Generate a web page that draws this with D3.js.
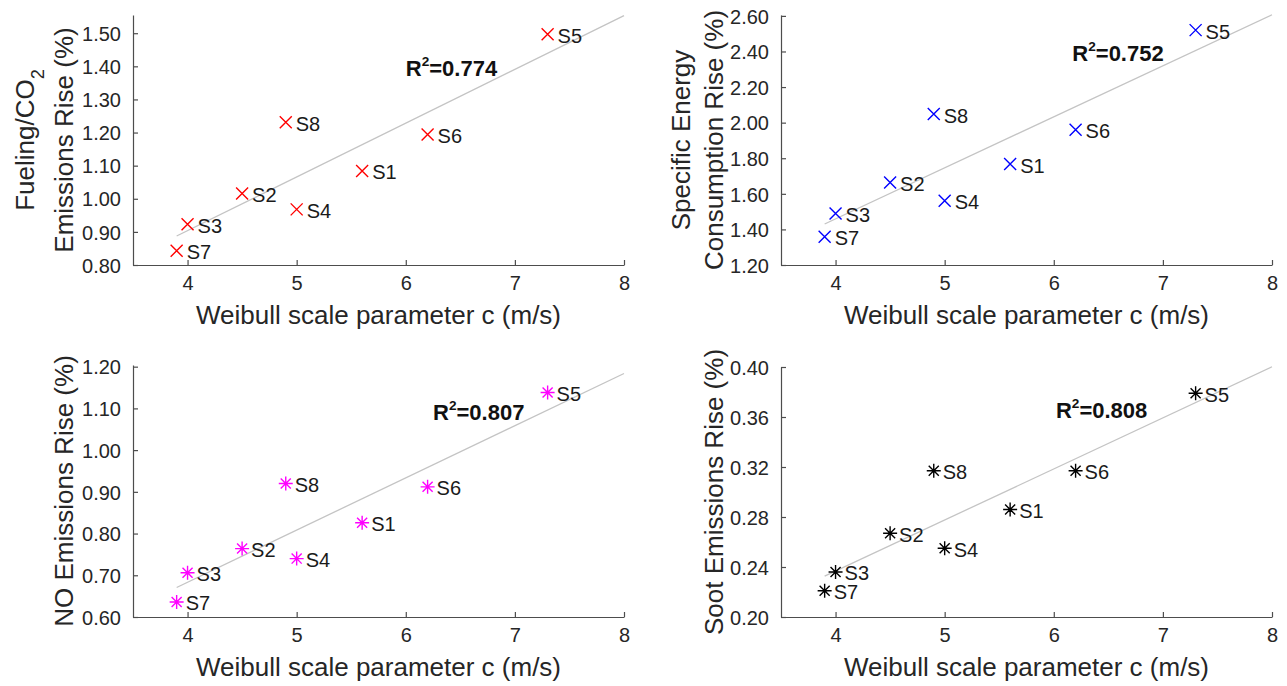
<!DOCTYPE html>
<html>
<head>
<meta charset="utf-8">
<script src="https://cdn.jsdelivr.net/npm/d3@7"></script>
<style>
  html, body { margin: 0; padding: 0; background: #fff; }
  svg { display: block; }
  text { font-family: "Liberation Sans", Arial, Helvetica, sans-serif; }
</style>
</head>
<body>
<svg id="chart" width="1287" height="686"></svg>
<script>
// ---------------- DATA ----------------
const scenarios = ["S1", "S2", "S3", "S4", "S5", "S6", "S7", "S8"];
const weibullC = [5.6, 4.5, 4.0, 5.0, 7.3, 6.2, 3.9, 4.9];
const fuelingCO2Rise = [1.084, 1.016, 0.923, 0.968, 1.497, 1.194, 0.843, 1.231];
const secRise = [1.767, 1.664, 1.490, 1.561, 2.520, 1.960, 1.359, 2.048];
const noRise = [0.826, 0.764, 0.706, 0.740, 1.138, 0.912, 0.636, 0.920];
const sootRise = [0.286, 0.267, 0.236, 0.255, 0.379, 0.317, 0.221, 0.317];
const r2Values = ["0.774", "0.752", "0.807", "0.808"];

const xTicks = [4, 5, 6, 7, 8];
const yTicksFueling = [0.80, 0.90, 1.00, 1.10, 1.20, 1.30, 1.40, 1.50];
const yTicksSEC = [1.20, 1.40, 1.60, 1.80, 2.00, 2.20, 2.40, 2.60];
const yTicksNO = [0.60, 0.70, 0.80, 0.90, 1.00, 1.10, 1.20];
const yTicksSoot = [0.20, 0.24, 0.28, 0.32, 0.36, 0.40];

const xLabel = "Weibull scale parameter c (m/s)";

// ---------------- LAYOUT / STYLE ----------------
const panels = [
  { values: fuelingCO2Rise, yTicks: yTicksFueling, yDomain: [0.8, 1.555], color: "#ff0000", marker: "x",
    xRange: [133, 624], yRange: [265, 15], r2: r2Values[0], r2At: [6.0, 1.371],
    yLabel: [["Fueling/CO", "2"], ["Emissions Rise (%)"]], labelOffsets: [99, 60] },
  { values: secRise, yTicks: yTicksSEC, yDomain: [1.2, 2.605], color: "#0000ff", marker: "x",
    xRange: [781, 1272], yRange: [265, 15], r2: r2Values[1], r2At: [6.17, 2.347],
    yLabel: [["Specific Energy"], ["Consumption Rise (%)"]], labelOffsets: [91, 58] },
  { values: noRise, yTicks: yTicksNO, yDomain: [0.6, 1.204], color: "#ff00ff", marker: "*",
    xRange: [133, 624], yRange: [617, 365], r2: r2Values[2], r2At: [6.25, 1.072],
    yLabel: [["NO Emissions Rise (%)"]], labelOffsets: [60] },
  { values: sootRise, yTicks: yTicksSoot, yDomain: [0.2, 0.4], color: "#000000", marker: "*",
    xRange: [781, 1272], yRange: [617, 367], r2: r2Values[3], r2At: [6.02, 0.359],
    yLabel: [["Soot Emissions Rise (%)"]], labelOffsets: [58] }
];

const axisColor = "#4d4d4d";
const textColor = "#262626";
const tickFont = 20, labelFont = 26, pointFont = 20, r2Font = 22;

const svg = d3.select("#chart");

function linreg(xs, ys) {
  const n = xs.length;
  const mx = d3.mean(xs), my = d3.mean(ys);
  let sxy = 0, sxx = 0;
  for (let i = 0; i < n; i++) { sxy += (xs[i] - mx) * (ys[i] - my); sxx += (xs[i] - mx) ** 2; }
  const b = sxy / sxx;
  return { a: my - b * mx, b };
}

panels.forEach(p => {
  const x = d3.scaleLinear().domain([3.5, 8]).range(p.xRange);
  const y = d3.scaleLinear().domain(p.yDomain).range(p.yRange);
  const g = svg.append("g");
  const x0 = p.xRange[0], yB = p.yRange[0];

  // trend line
  const fit = linreg(weibullC, p.values);
  const xs = [d3.min(weibullC), 8];
  g.append("path")
    .attr("d", d3.line().x(d => x(d)).y(d => y(fit.a + fit.b * d))(xs))
    .attr("stroke", "#c4c4c4").attr("stroke-width", 1.3).attr("fill", "none");

  // x axis
  const xAxis = d3.axisBottom(x).tickValues(xTicks).tickSizeInner(-5).tickSizeOuter(0).tickPadding(11)
    .tickFormat(d3.format("d"));
  const gx = g.append("g").attr("transform", `translate(0,${yB})`).call(xAxis);
  // y axis
  const yAxis = d3.axisLeft(y).tickValues(p.yTicks).tickSizeInner(-5).tickSizeOuter(0).tickPadding(12)
    .tickFormat(d3.format(".2f"));
  const gy = g.append("g").attr("transform", `translate(${x0},0)`).call(yAxis);
  [gx, gy].forEach(a => {
    a.select(".domain").attr("stroke", axisColor).attr("stroke-width", 1.2);
    a.selectAll(".tick line").attr("stroke", axisColor).attr("stroke-width", 1.2);
    a.selectAll(".tick text").attr("fill", textColor).attr("font-size", tickFont)
      .attr("font-family", "'Liberation Sans', Arial, sans-serif");
  });
  gy.selectAll(".tick text").attr("dy", "0.36em");
  gx.selectAll(".tick text").attr("dy", "0.71em");

  // x label
  g.append("text").attr("x", x(5.75)).attr("y", yB + 59)
    .attr("text-anchor", "middle").attr("font-size", labelFont).attr("fill", textColor)
    .text(xLabel);

  // y label
  const yc = (p.yRange[0] + p.yRange[1]) / 2;
  p.yLabel.forEach((ln, i) => {
    const bx = x0 - p.labelOffsets[i];
    const t = g.append("text")
      .attr("transform", `translate(${bx},${yc}) rotate(-90)`)
      .attr("text-anchor", "middle").attr("font-size", labelFont).attr("fill", textColor);
    t.append("tspan").text(ln[0]);
    if (ln[1]) t.append("tspan").attr("font-size", labelFont * 0.7).attr("dy", "0.55em").text(ln[1]);
  });

  // markers
  const r = p.marker === "x" ? 6 : 7;
  const markerPath = p.marker === "x"
    ? `M${-r},${-r}L${r},${r}M${-r},${r}L${r},${-r}`
    : (() => { const d = r * 0.72; return `M${-r},0L${r},0M0,${-r}L0,${r}M${-d},${-d}L${d},${d}M${-d},${d}L${d},${-d}`; })();
  const pts = scenarios.map((s, i) => ({ s, cx: weibullC[i], v: p.values[i] }));
  g.selectAll(".mk").data(pts).join("path")
    .attr("transform", d => `translate(${x(d.cx)},${y(d.v)})`)
    .attr("d", markerPath).attr("stroke", p.color).attr("stroke-width", 1.4).attr("fill", "none");
  g.selectAll(".pl").data(pts).join("text")
    .attr("x", d => x(d.cx) + (p.marker === "x" ? 10 : 9)).attr("y", d => y(d.v))
    .attr("dy", "0.42em").attr("font-size", pointFont).attr("fill", "#1a1a1a")
    .text(d => d.s);

  // R^2 annotation
  const rt = g.append("text").attr("x", x(p.r2At[0])).attr("y", y(p.r2At[1]))
    .attr("font-size", r2Font).attr("font-weight", "bold").attr("fill", "#111");
  rt.append("tspan").text("R");
  rt.append("tspan").attr("font-size", r2Font * 0.62).attr("dy", "-0.75em").text("2");
  rt.append("tspan").attr("dy", "0.46em").text("=" + p.r2);
});
</script>
</body>
</html>
